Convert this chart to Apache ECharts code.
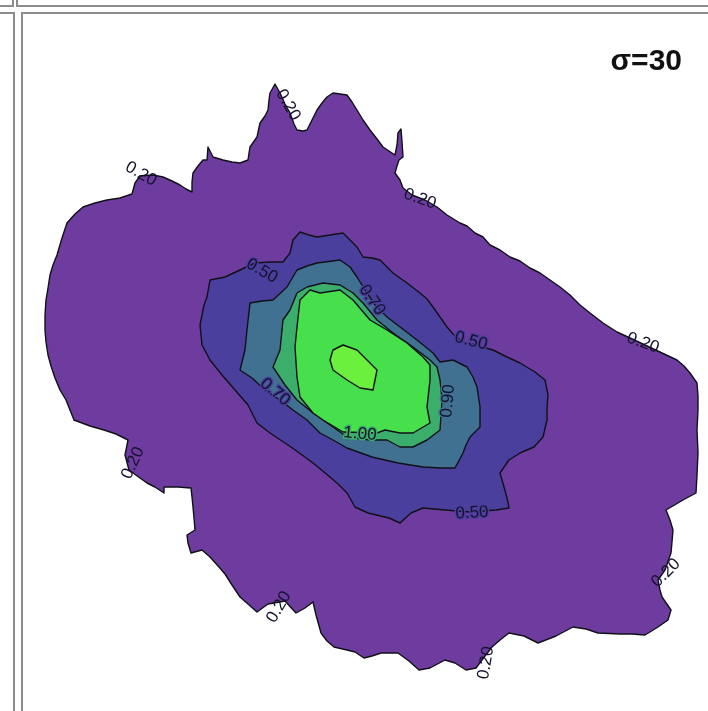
<!DOCTYPE html>
<html>
<head>
<meta charset="utf-8">
<script src="https://cdn.jsdelivr.net/npm/echarts@6/dist/echarts.min.js"></script>
<style>
html, body { margin: 0; padding: 0; background: #fff; }
#chart { width: 708px; height: 711px; }
</style>
</head>
<body>
<div id="chart"></div>
<script>
// Smoothed density surface, sigma = 30; contour levels and their fill colours
const levels = [0.20, 0.50, 0.70, 0.90, 1.00, 1.10];
const bandColors = ['#6e3c9f', '#4a3f9c', '#417190', '#3cae6c', '#47df4b', '#6cf03e'];

// Closed iso-lines in map units (x east, y south), one per level
const iso020 = [[275,84],[280,93],[285,104],[290,113],[294,124],[297,130],[303,131],[307,130],[312,120],[317,110],[322,103],[327,97],[333,93],[340,94],[347,95],[352,102],[357,110],[363,120],[370,130],[377,139],[383,147],[389,151],[395,155],[397,145],[398,133],[401,129],[402,142],[403,157],[399,160],[397,166],[395,173],[400,180],[403,188],[412,195],[425,200],[437,207],[447,215],[460,223],[467,226],[475,233],[483,237],[490,245],[500,250],[510,257],[520,261],[530,268],[540,273],[550,280],[560,287],[570,295],[580,305],[590,313],[603,323],[617,332],[630,338],[645,345],[662,353],[677,360],[684,366],[690,373],[697,383],[698,396],[698,410],[697,430],[698,453],[697,475],[696,493],[683,500],[666,510],[670,520],[673,530],[672,542],[671,553],[665,570],[658,580],[660,590],[662,597],[671,610],[668,620],[658,627],[645,635],[632,634],[620,634],[598,633],[586,629],[573,627],[556,636],[538,643],[524,636],[509,633],[500,640],[492,647],[485,656],[476,668],[466,670],[455,663],[445,660],[430,668],[419,670],[409,661],[398,653],[381,653],[372,656],[364,658],[355,652],[347,650],[334,647],[327,641],[321,633],[316,615],[313,602],[305,608],[296,613],[285,601],[268,604],[257,612],[248,604],[240,597],[232,585],[225,574],[219,567],[210,557],[202,550],[191,553],[188,543],[187,535],[195,530],[194,518],[193,507],[192,497],[191,488],[178,487],[164,487],[164,493],[155,487],[147,483],[140,478],[129,470],[125,455],[128,440],[116,434],[104,430],[90,426],[74,420],[70,410],[66,400],[60,390],[55,378],[51,366],[48,355],[46,342],[45,330],[45,315],[46,300],[48,288],[50,275],[53,265],[57,255],[62,238],[67,223],[75,214],[83,207],[95,203],[107,200],[120,198],[132,194],[135,183],[140,176],[153,175],[163,177],[172,181],[180,185],[186,189],[192,192],[192,182],[193,173],[198,166],[203,160],[207,160],[208,147],[213,157],[223,160],[232,162],[240,163],[248,160],[249,153],[250,147],[257,137],[260,123],[265,116],[268,110],[269,100],[270,93]];
const iso050 = [[204,305],[207,297],[210,280],[225,277],[240,270],[255,263],[270,262],[283,262],[290,253],[293,240],[300,232],[309,235],[317,237],[330,235],[343,233],[350,240],[357,247],[363,257],[372,258],[380,260],[387,267],[393,273],[407,283],[420,293],[427,299],[433,307],[440,317],[447,327],[453,334],[460,340],[475,345],[493,350],[507,357],[520,363],[535,372],[545,380],[548,395],[547,408],[547,420],[543,437],[534,447],[520,453],[509,460],[500,473],[502,480],[504,487],[507,498],[509,508],[496,510],[470,512],[445,510],[423,508],[411,513],[400,523],[389,518],[368,513],[355,507],[347,493],[338,484],[330,477],[313,463],[302,455],[291,447],[270,433],[257,423],[248,405],[235,390],[222,375],[210,360],[202,345],[200,325]];
const iso070 = [[240,370],[245,350],[247,330],[250,303],[262,301],[273,300],[287,287],[297,270],[307,266],[317,263],[340,260],[350,267],[357,277],[365,290],[375,305],[387,317],[400,327],[417,340],[433,353],[440,362],[453,360],[467,367],[473,377],[477,387],[480,407],[480,427],[470,437],[466,445],[463,453],[455,468],[440,468],[423,467],[398,463],[372,457],[347,448],[333,440],[320,433],[307,420],[293,410],[280,400],[265,390],[252,378]];
const iso090 = [[273,367],[280,350],[283,320],[290,310],[297,293],[307,287],[323,283],[340,285],[353,293],[363,303],[377,320],[393,333],[413,347],[430,360],[437,367],[440,380],[442,400],[440,430],[427,440],[413,447],[400,447],[387,440],[370,440],[347,437],[333,427],[313,413],[297,400],[285,385]];
const iso100 = [[297,327],[300,300],[310,290],[320,293],[340,290],[353,300],[370,320],[387,330],[407,343],[423,357],[430,365],[430,380],[427,407],[430,423],[413,433],[400,433],[385,430],[377,433],[343,432],[323,420],[313,413],[300,397],[297,377],[295,347]];
const iso110 = [[330,360],[333,350],[343,345],[357,350],[367,360],[377,370],[373,390],[360,388],[347,380],[333,370]];
const isoLines = [iso020, iso050, iso070, iso090, iso100, iso110];

// Inline contour labels: anchor point, level, angle in degrees
const labelPoints = [[288,105],[141,174],[420,199],[643,343],[133,463],[279,607],[486,663],[666,573],[262,271],[372,300],[471,341],[275,392],[448,401],[360,434],[472,513]];
const labelLevels = [0.20,0.20,0.20,0.20,0.20,0.20,0.20,0.20,0.50,0.70,0.50,0.70,0.90,1.00,0.50];
const labelAngles = [-60,-30,-20,-20,65,60,80,45,-30,-55,-15,-40,85,-5,3];

const chart = echarts.init(document.getElementById('chart'), null, { renderer: 'canvas' });

const bandData = levels.map((lv, i) => ({ value: [i, lv] }));
const labelData = labelPoints.map((p, i) => ({ value: [p[0], p[1], labelLevels[i], labelAngles[i]] }));

const frameStyle = { stroke: '#8c8c8c', lineWidth: 2 };

chart.setOption({
  animation: false,
  backgroundColor: '#ffffff',
  title: {
    text: 'σ=30',
    right: 21,
    top: 42,
    textStyle: { fontFamily: 'Liberation Sans, Arial, sans-serif', fontWeight: 'bold', fontSize: 30, color: '#111' }
  },
  grid: { left: 0, right: 0, top: 0, bottom: 0 },
  xAxis: { type: 'value', min: 0, max: 708, show: false },
  yAxis: { type: 'value', min: 0, max: 711, inverse: true, show: false },
  graphic: [
    { type: 'polyline', shape: { points: [[13,0],[13,6],[0,6]] }, style: frameStyle, silent: true },
    { type: 'polyline', shape: { points: [[17,0],[17,6],[708,6]] }, style: frameStyle, silent: true },
    { type: 'polyline', shape: { points: [[0,13],[14,13],[14,711]] }, style: frameStyle, silent: true },
    { type: 'polyline', shape: { points: [[708,13],[22,13],[22,711]] }, style: frameStyle, silent: true }
  ],
  series: [
    {
      type: 'custom',
      coordinateSystem: 'cartesian2d',
      clip: false,
      data: bandData,
      encode: { x: 0, y: 1 },
      renderItem: function (params, api) {
        const idx = params.dataIndex;
        const pts = isoLines[idx].map(p => api.coord(p));
        return {
          type: 'polygon',
          shape: { points: pts },
          style: { fill: bandColors[idx], stroke: '#101018', lineWidth: 1.4, lineJoin: 'round' },
          z2: idx
        };
      }
    },
    {
      type: 'custom',
      coordinateSystem: 'cartesian2d',
      clip: false,
      data: labelData,
      encode: { x: 0, y: 1 },
      z: 5,
      renderItem: function (params, api) {
        const c = api.coord([api.value(0), api.value(1)]);
        const lv = api.value(2);
        const txt = lv.toFixed(2);
        const ang = api.value(3) * Math.PI / 180;
        const li = levels.indexOf(lv);
        // inner labels get a thin halo in the band colour so the line breaks under the text
        const halo = li > 0 ? bandColors[li === 1 ? 1 : li - 1] : null;
        const style = {
          text: txt,
          fill: '#14122c',
          font: '17px "Liberation Sans", Arial, sans-serif',
          align: 'center',
          verticalAlign: 'middle',
          textAlign: 'center',
          textVerticalAlign: 'middle'
        };
        if (halo) { style.stroke = halo; style.lineWidth = 3; }
        return { type: 'text', x: c[0], y: c[1], rotation: ang, style: style };
      }
    }
  ]
});
</script>
</body>
</html>
